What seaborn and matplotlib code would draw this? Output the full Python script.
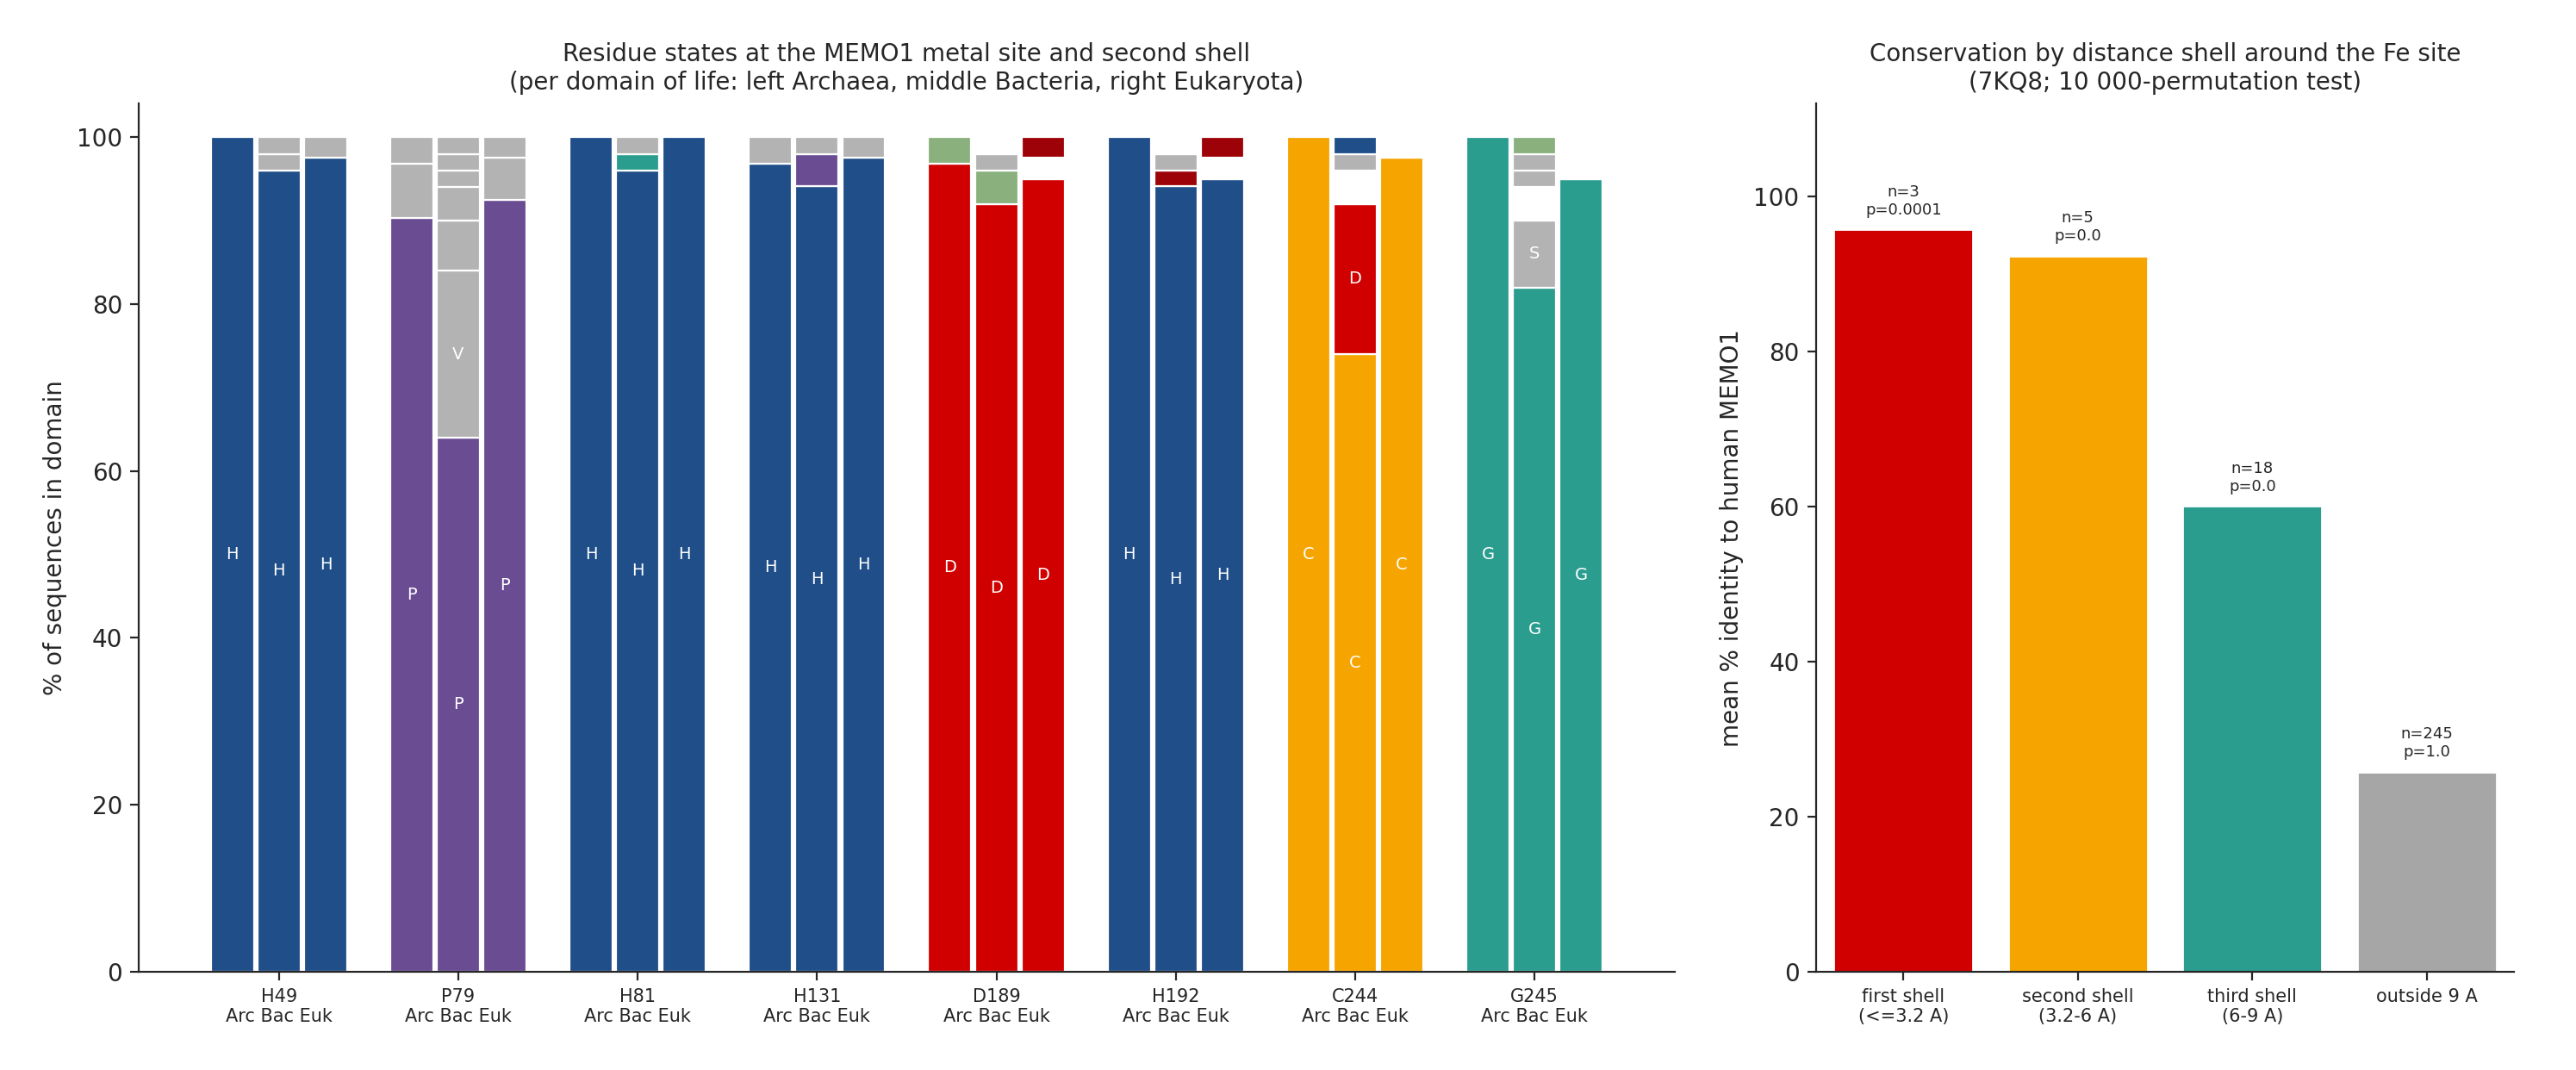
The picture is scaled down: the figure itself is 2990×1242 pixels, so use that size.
import matplotlib
matplotlib.use("Agg")
import matplotlib.pyplot as plt
import seaborn as sns
import pandas as pd

sns.set_style("ticks")
plt.rcParams["font.family"] = ["DejaVu Sans"]

# colours per residue state
state_colors = {
    "H": "#1f4e89", "P": "#6a4c93", "D": "#d00000", "C": "#f5a400",
    "G": "#2a9d8f", "E": "#9d0208", "N": "#8ab17d", "other": "#b3b3b3",
    "gap": "#ffffff",
}

sites = ["H49", "P79", "H81", "H131", "D189", "H192", "C244", "G245"]
domains = ["Arc", "Bac", "Euk"]

# stacked segments (state, % of sequences) per site and domain, bottom to top
site_segments = {
    "H49": [[("H", 100)],
            [("H", 96), ("other", 2), ("other", 2)],
            [("H", 97.5), ("other", 2.5)]],
    "P79": [[("P", 90.3), ("other", 6.5), ("other", 3.2)],
            [("P", 64), ("V", 20), ("other", 6), ("other", 4), ("other", 2), ("other", 2), ("other", 2)],
            [("P", 92.5), ("other", 5), ("other", 2.5)]],
    "H81": [[("H", 100)],
            [("H", 96), ("G", 2), ("other", 2)],
            [("H", 100)]],
    "H131": [[("H", 96.8), ("other", 3.2)],
             [("H", 94.1), ("P", 3.9), ("other", 2)],
             [("H", 97.5), ("other", 2.5)]],
    "D189": [[("D", 96.8), ("N", 3.2)],
             [("D", 92), ("N", 4), ("other", 2), ("gap", 2)],
             [("D", 95), ("gap", 2.5), ("E", 2.5)]],
    "H192": [[("H", 100)],
             [("H", 94.1), ("E", 1.9), ("other", 2), ("gap", 2)],
             [("H", 95), ("gap", 2.5), ("E", 2.5)]],
    "C244": [[("C", 100)],
             [("C", 74), ("D", 18), ("gap", 4), ("other", 2), ("H", 2)],
             [("C", 97.5), ("gap", 2.5)]],
    "G245": [[("G", 100)],
             [("G", 82), ("S", 8), ("gap", 4), ("other", 2), ("other", 2), ("N", 2)],
             [("G", 95), ("gap", 5)]],
}

shells = ["first shell\n(<=3.2 A)", "second shell\n(3.2-6 A)", "third shell\n(6-9 A)", "outside 9 A"]
shell_identity = [95.8, 92.4, 60.1, 25.8]
shell_n = [3, 5, 18, 245]
shell_p = ["0.0001", "0.0", "0.0", "1.0"]
shell_colors = ["#d00000", "#f5a400", "#2a9d8f", "#a6a6a6"]

fig = plt.figure(figsize=(14.95, 6.21), dpi=200)
ax1 = fig.add_axes([0.054, 0.092, 0.596, 0.811])
ax2 = fig.add_axes([0.705, 0.092, 0.271, 0.811])

# ---- left: stacked residue states
offsets = [-0.26, 0.0, 0.26]
width = 0.24
for i, site in enumerate(sites):
    for j, segs in enumerate(site_segments[site]):
        x = i + offsets[j]
        bottom = 0
        for state, val in segs:
            col = state_colors.get(state, state_colors["other"])
            ax1.bar(x, val, width=width, bottom=bottom, color=col,
                    edgecolor="white", linewidth=0.8)
            if val >= 8 and state != "gap":
                ax1.text(x, bottom + val / 2, state, color="white",
                         ha="center", va="center", fontsize=7)
            bottom += val

ax1.set_xticks(range(len(sites)))
ax1.set_xticklabels([f"{s}\n{' '.join(domains)}" for s in sites], fontsize=7.5)
ax1.set_xlim(-0.78, 7.78)
ax1.set_ylim(0, 104)
ax1.set_ylabel("% of sequences in domain", fontsize=10)
ax1.set_title("Residue states at the MEMO1 metal site and second shell\n"
              "(per domain of life: left Archaea, middle Bacteria, right Eukaryota)",
              fontsize=10)

# ---- right: conservation by shell
df = pd.DataFrame({"shell": shells, "identity": shell_identity})
sns.barplot(data=df, x="shell", y="identity", hue="shell", palette=shell_colors,
            legend=False, width=0.8, saturation=1, ax=ax2)
for i, (v, n, p) in enumerate(zip(shell_identity, shell_n, shell_p)):
    ax2.text(i, v + 1.5, f"n={n}\np={p}", ha="center", va="bottom", fontsize=6.5)
ax2.set_ylim(0, 112)
ax2.set_xlabel("")
ax2.set_ylabel("mean % identity to human MEMO1", fontsize=10)
ax2.tick_params(axis="x", labelsize=7.5)
ax2.set_title("Conservation by distance shell around the Fe site\n"
              "(7KQ8; 10 000-permutation test)", fontsize=10)

sns.despine(fig=fig)
fig.savefig("out.png", dpi=200)
